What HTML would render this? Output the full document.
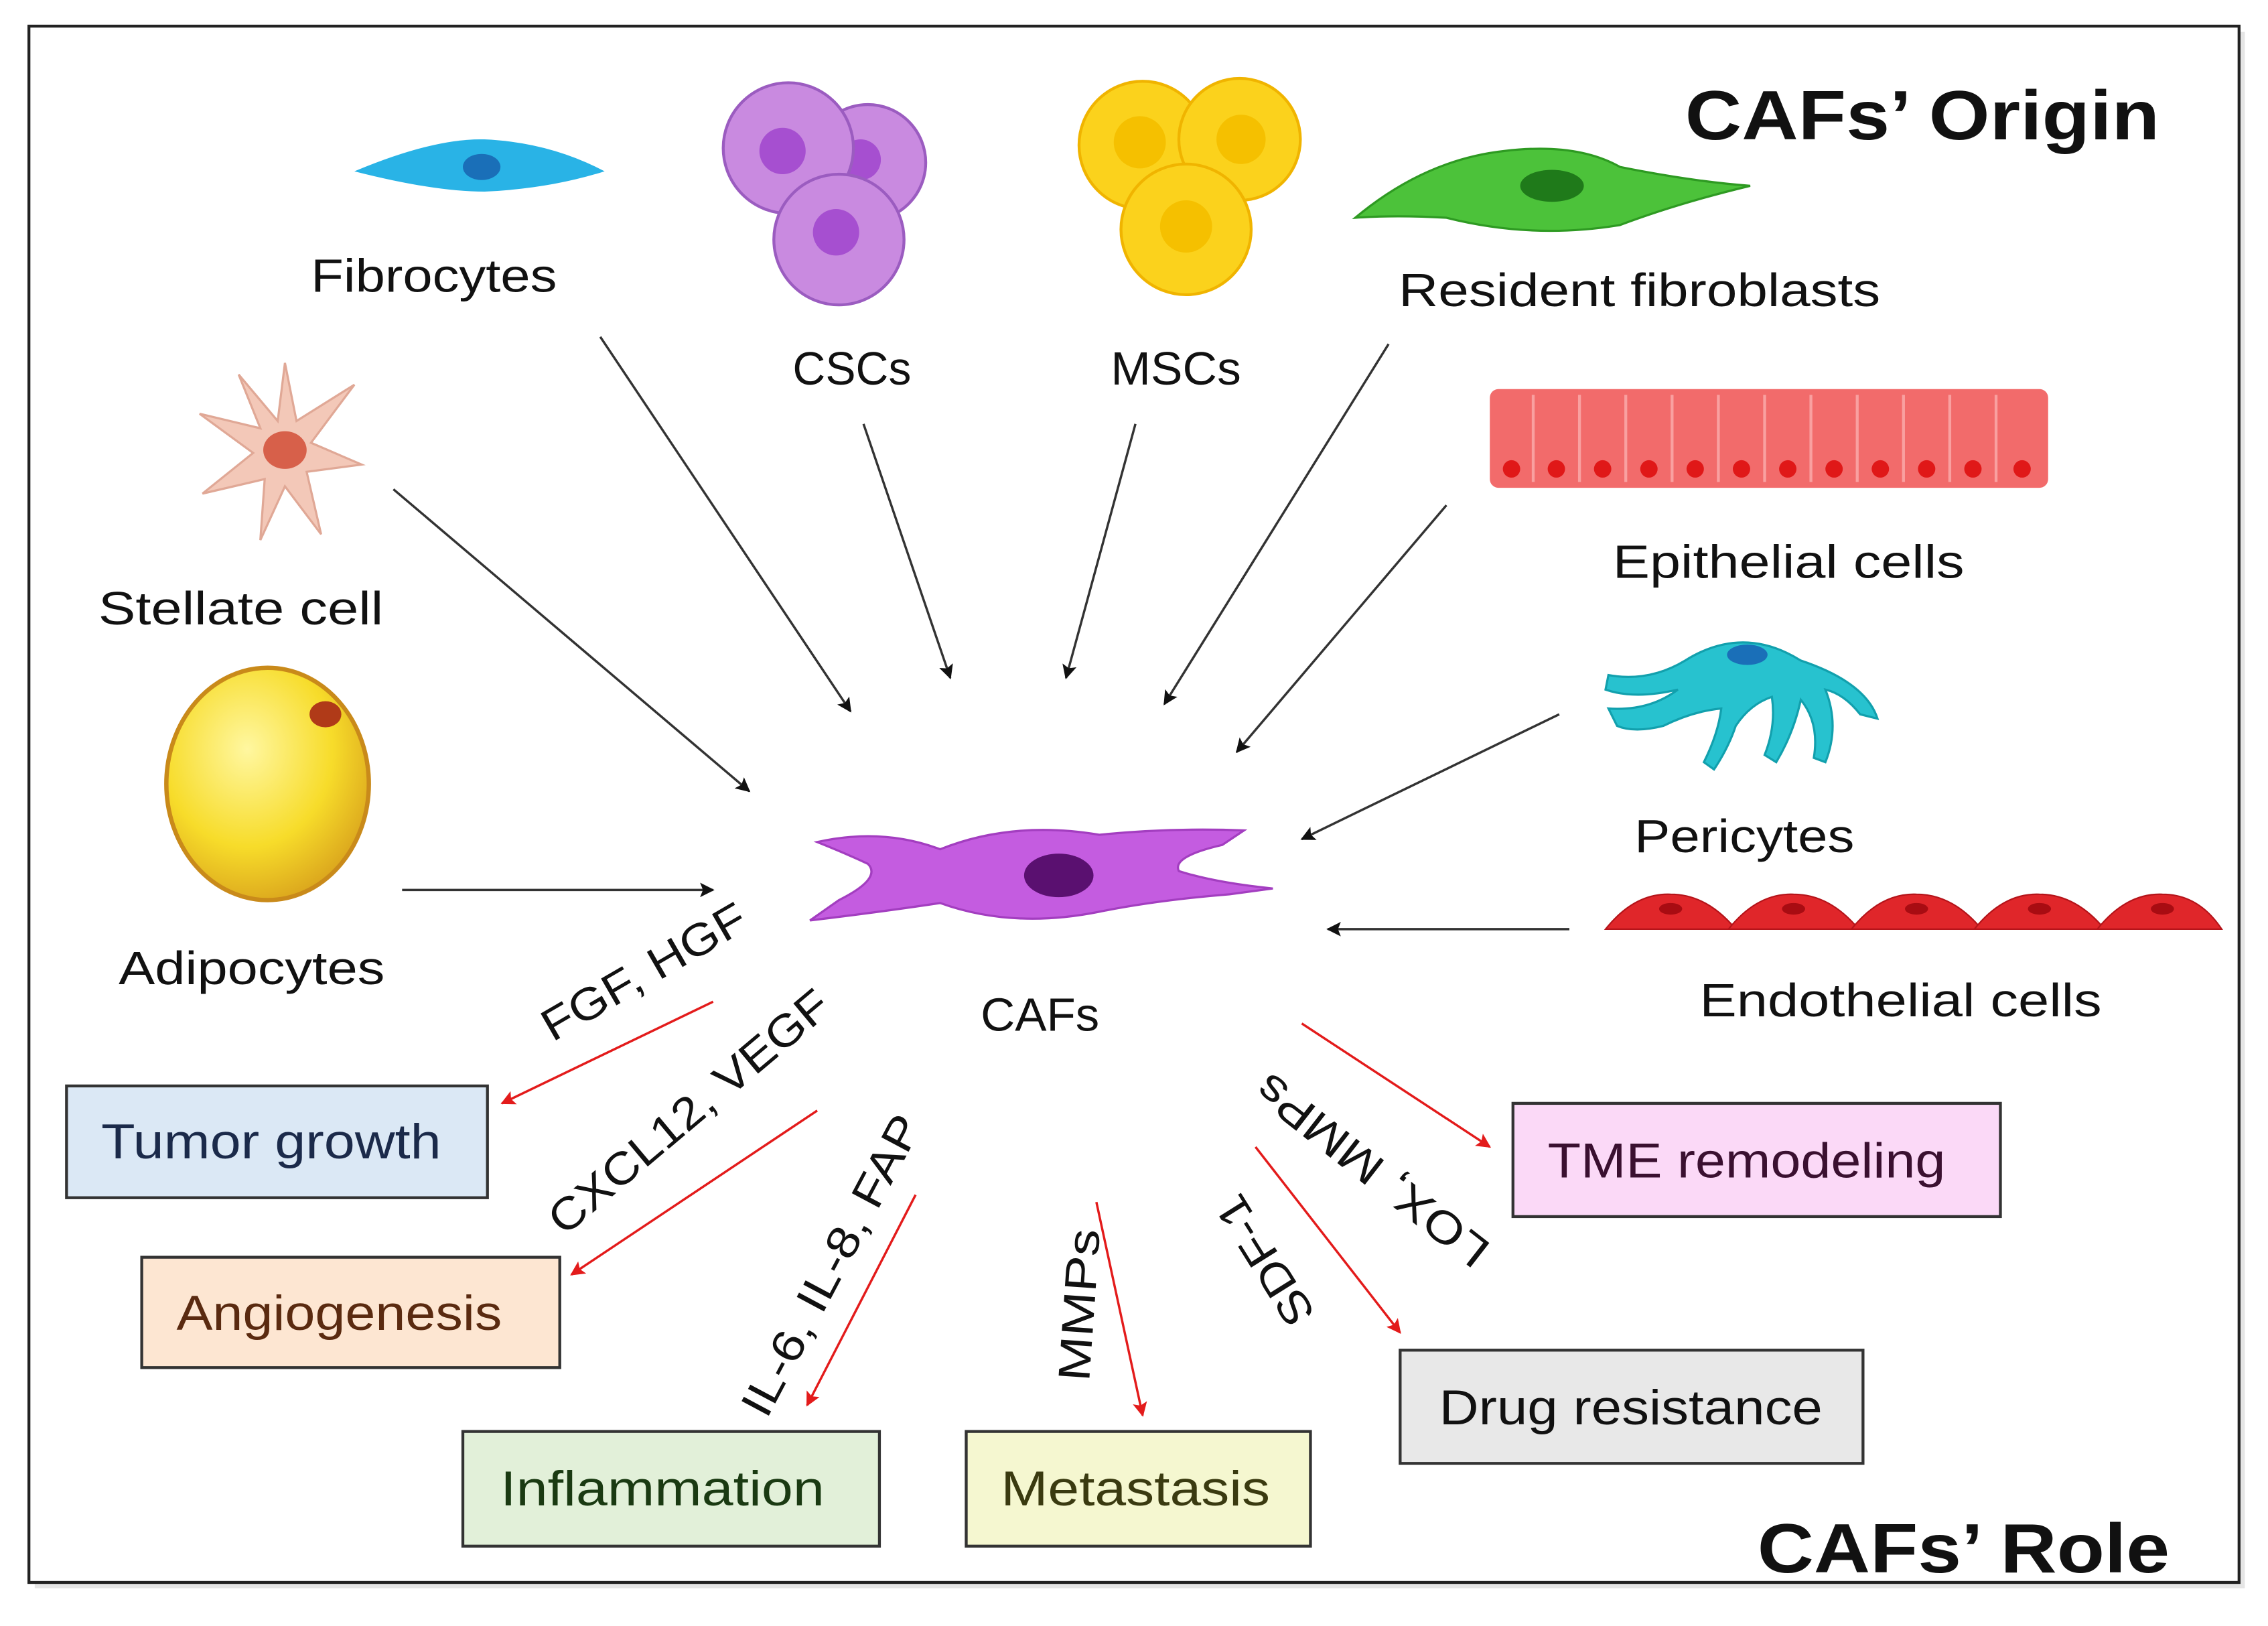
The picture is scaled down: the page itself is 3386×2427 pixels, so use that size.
<!DOCTYPE html>
<html><head><meta charset="utf-8"><style>
html,body{margin:0;padding:0;background:#fff;}
svg{display:block;}
text{font-family:"Liberation Sans","DejaVu Sans",sans-serif;fill:#111;}
</style></head><body>
<svg width="3386" height="2427" viewBox="0 0 1568 1120" preserveAspectRatio="none" xmlns="http://www.w3.org/2000/svg">
<defs>
<marker id="ak" markerWidth="10" markerHeight="10" refX="9" refY="5" orient="auto" markerUnits="userSpaceOnUse"><path d="M0,0 L10,5 L0,10 L2,5 z" fill="#111"/></marker>
<marker id="ar" markerWidth="10" markerHeight="10" refX="9" refY="5" orient="auto" markerUnits="userSpaceOnUse"><path d="M0,0 L10,5 L0,10 L2,5 z" fill="#e31b1b"/></marker>
<radialGradient id="adi" cx="0.4" cy="0.35" r="0.7"><stop offset="0" stop-color="#fff7a0"/><stop offset="0.6" stop-color="#f7dc2a"/><stop offset="1" stop-color="#d9a21c"/></radialGradient>
</defs>
<rect x="24" y="22" width="1528" height="1072" fill="#ccc" opacity="0.5"/>
<rect x="20" y="18" width="1528" height="1072" fill="#fff" stroke="#222" stroke-width="2"/>

<text x="1165" y="96" font-size="48" font-weight="bold" textLength="328" lengthAdjust="spacingAndGlyphs">CAFs’ Origin</text>
<text x="1215" y="1083" font-size="48" font-weight="bold" textLength="285" lengthAdjust="spacingAndGlyphs">CAFs’ Role</text>

<path d="M245,118 Q300,95 335,96 Q380,98 418,118 Q380,130 335,132 Q300,132 245,118z" fill="#29b3e6"/>
<ellipse cx="333" cy="115" rx="13" ry="9" fill="#1a6fb8"/>
<text x="215" y="201" font-size="32" textLength="170" lengthAdjust="spacingAndGlyphs">Fibrocytes</text>

<circle cx="600" cy="112" r="40" fill="#c98ae0" stroke="#9b5cc0" stroke-width="2"/><circle cx="595" cy="110" r="14" fill="#a64fd0"/>
<circle cx="545" cy="102" r="45" fill="#c98ae0" stroke="#9b5cc0" stroke-width="2"/><circle cx="541" cy="104" r="16" fill="#a64fd0"/>
<circle cx="580" cy="165" r="45" fill="#c98ae0" stroke="#9b5cc0" stroke-width="2"/><circle cx="578" cy="160" r="16" fill="#a64fd0"/>
<text x="548" y="265" font-size="32" textLength="82" lengthAdjust="spacingAndGlyphs">CSCs</text>

<circle cx="790" cy="100" r="44" fill="#fbd21c" stroke="#f0b400" stroke-width="2"/><circle cx="788" cy="98" r="18" fill="#f5c000"/>
<circle cx="857" cy="96" r="42" fill="#fbd21c" stroke="#f0b400" stroke-width="2"/><circle cx="858" cy="96" r="17" fill="#f5c000"/>
<circle cx="820" cy="158" r="45" fill="#fbd21c" stroke="#f0b400" stroke-width="2"/><circle cx="820" cy="156" r="18" fill="#f5c000"/>
<text x="768" y="265" font-size="32" textLength="90" lengthAdjust="spacingAndGlyphs">MSCs</text>

<path d="M937,150 Q985,110 1040,104 Q1090,98 1120,115 Q1170,125 1210,128 Q1160,140 1120,155 Q1060,165 1000,150 Q965,148 937,150z" fill="#4cc23a" stroke="#2e9a22" stroke-width="1.5"/>
<ellipse cx="1073" cy="128" rx="22" ry="11" fill="#1f7a1a"/>
<text x="967" y="211" font-size="32" textLength="333" lengthAdjust="spacingAndGlyphs">Resident fibroblasts</text>

<rect x="1030" y="268" width="386" height="68" rx="6" fill="#f26b6b"/>
<g stroke="#f9a0a0" stroke-width="2">
<line x1="1060" y1="272" x2="1060" y2="332"/><line x1="1092" y1="272" x2="1092" y2="332"/><line x1="1124" y1="272" x2="1124" y2="332"/><line x1="1156" y1="272" x2="1156" y2="332"/><line x1="1188" y1="272" x2="1188" y2="332"/><line x1="1220" y1="272" x2="1220" y2="332"/><line x1="1252" y1="272" x2="1252" y2="332"/><line x1="1284" y1="272" x2="1284" y2="332"/><line x1="1316" y1="272" x2="1316" y2="332"/><line x1="1348" y1="272" x2="1348" y2="332"/><line x1="1380" y1="272" x2="1380" y2="332"/>
</g>
<g fill="#e01818">
<circle cx="1045" cy="323" r="6"/><circle cx="1076" cy="323" r="6"/><circle cx="1108" cy="323" r="6"/><circle cx="1140" cy="323" r="6"/><circle cx="1172" cy="323" r="6"/><circle cx="1204" cy="323" r="6"/><circle cx="1236" cy="323" r="6"/><circle cx="1268" cy="323" r="6"/><circle cx="1300" cy="323" r="6"/><circle cx="1332" cy="323" r="6"/><circle cx="1364" cy="323" r="6"/><circle cx="1398" cy="323" r="6"/>
</g>
<text x="1115" y="398" font-size="32" textLength="243" lengthAdjust="spacingAndGlyphs">Epithelial cells</text>

<path d="M1165,455 Q1205,430 1245,455 Q1290,470 1298,495 L1286,492 Q1275,478 1262,475 Q1272,500 1262,525 L1254,522 Q1258,498 1245,482 Q1240,505 1228,525 L1220,520 Q1228,500 1225,480 Q1210,485 1200,500 Q1195,515 1185,530 L1178,525 Q1188,505 1190,488 Q1170,490 1150,500 Q1130,505 1118,500 L1112,488 Q1140,490 1160,475 Q1130,482 1110,475 L1112,465 Q1140,470 1165,455z" fill="#27c2cf" stroke="#12a0ad" stroke-width="1.5"/>
<ellipse cx="1208" cy="451" rx="14" ry="7" fill="#1a6fb8"/>
<text x="1130" y="587" font-size="32" textLength="152" lengthAdjust="spacingAndGlyphs">Pericytes</text>

<g fill="#e0262a" stroke="#b5141a" stroke-width="1">
<path d="M1110,640 Q1130,615 1155,616 Q1180,616 1200,640z"/>
<path d="M1195,640 Q1215,615 1240,616 Q1265,616 1285,640z"/>
<path d="M1280,640 Q1300,615 1325,616 Q1350,616 1370,640z"/>
<path d="M1365,640 Q1385,615 1410,616 Q1435,616 1455,640z"/>
<path d="M1450,640 Q1470,615 1495,616 Q1520,616 1536,640z"/>
</g>
<g fill="#a80c12"><ellipse cx="1155" cy="626" rx="8" ry="4"/><ellipse cx="1240" cy="626" rx="8" ry="4"/><ellipse cx="1325" cy="626" rx="8" ry="4"/><ellipse cx="1410" cy="626" rx="8" ry="4"/><ellipse cx="1495" cy="626" rx="8" ry="4"/></g>
<text x="1175" y="700" font-size="32" textLength="278" lengthAdjust="spacingAndGlyphs">Endothelial cells</text>

<path d="M197,250 L205,290 L245,265 L215,305 L250,320 L212,325 L222,368 L197,335 L180,372 L183,330 L140,340 L175,312 L138,285 L180,295 L165,258 L192,290 z" fill="#f3c8b8" stroke="#e0a896" stroke-width="1.5"/>
<ellipse cx="197" cy="310" rx="15" ry="13" fill="#d7604a"/>
<text x="68" y="430" font-size="32" textLength="197" lengthAdjust="spacingAndGlyphs">Stellate cell</text>

<ellipse cx="185" cy="540" rx="70" ry="80" fill="url(#adi)" stroke="#c98a1a" stroke-width="3"/>
<ellipse cx="225" cy="492" rx="11" ry="9" fill="#b03a18"/>
<text x="82" y="678" font-size="32" textLength="184" lengthAdjust="spacingAndGlyphs">Adipocytes</text>

<path d="M565,580 Q610,570 650,585 Q700,565 760,575 Q810,570 860,572 L845,582 Q810,590 815,600 Q840,608 880,612 L850,616 Q800,620 760,628 Q700,640 650,622 Q610,628 560,634 L580,620 Q610,605 600,595 Q585,588 565,580z" fill="#c45ce0" stroke="#a33ec0" stroke-width="1.5"/>
<ellipse cx="732" cy="603" rx="24" ry="15" fill="#5a1070"/>
<text x="678" y="710" font-size="32" textLength="82" lengthAdjust="spacingAndGlyphs">CAFs</text>

<g stroke="#333" stroke-width="1.6" marker-end="url(#ak)">
<line x1="415" y1="232" x2="588" y2="490"/>
<line x1="597" y1="292" x2="657" y2="467"/>
<line x1="785" y1="292" x2="737" y2="467"/>
<line x1="960" y1="237" x2="805" y2="485"/>
<line x1="1000" y1="348" x2="855" y2="518"/>
<line x1="272" y1="337" x2="518" y2="545"/>
<line x1="278" y1="613" x2="493" y2="613"/>
<line x1="1078" y1="492" x2="900" y2="578"/>
<line x1="1085" y1="640" x2="918" y2="640"/>
</g>

<g stroke="#e31b1b" stroke-width="1.6" marker-end="url(#ar)">
<line x1="493" y1="690" x2="347" y2="760"/>
<line x1="565" y1="765" x2="395" y2="878"/>
<line x1="633" y1="823" x2="558" y2="968"/>
<line x1="758" y1="828" x2="790" y2="975"/>
<line x1="868" y1="790" x2="968" y2="918"/>
<line x1="900" y1="705" x2="1030" y2="790"/>
</g>

<text font-size="31" textLength="158" lengthAdjust="spacingAndGlyphs" transform="translate(382,718) rotate(-30)">FGF, HGF</text>
<text font-size="31" textLength="243" lengthAdjust="spacingAndGlyphs" transform="translate(390,852) rotate(-40)">CXCL12, VEGF</text>
<text font-size="31" textLength="230" lengthAdjust="spacingAndGlyphs" transform="translate(530,978) rotate(-62)">IL-6, IL-8, FAP</text>
<text font-size="31" textLength="105" lengthAdjust="spacingAndGlyphs" transform="translate(753,952) rotate(-86)">MMPs</text>
<text font-size="31" textLength="195" lengthAdjust="spacingAndGlyphs" transform="translate(1032,858) rotate(218)">LOX, MMPs</text>
<text font-size="31" textLength="100" lengthAdjust="spacingAndGlyphs" transform="translate(910,905) rotate(238)">SDF-1</text>

<rect x="46" y="748" width="291" height="77" fill="#dbe8f5" stroke="#333" stroke-width="2"/>
<text x="70" y="798" font-size="34" textLength="235" lengthAdjust="spacingAndGlyphs" style="fill:#1b2a4a">Tumor growth</text>
<rect x="98" y="866" width="289" height="76" fill="#fde6d2" stroke="#333" stroke-width="2"/>
<text x="122" y="916" font-size="34" textLength="225" lengthAdjust="spacingAndGlyphs" style="fill:#5a2a10">Angiogenesis</text>
<rect x="320" y="986" width="288" height="79" fill="#e2f0d9" stroke="#333" stroke-width="2"/>
<text x="346" y="1037" font-size="34" textLength="224" lengthAdjust="spacingAndGlyphs" style="fill:#1a3a12">Inflammation</text>
<rect x="668" y="986" width="238" height="79" fill="#f5f7d0" stroke="#333" stroke-width="2"/>
<text x="692" y="1037" font-size="34" textLength="186" lengthAdjust="spacingAndGlyphs" style="fill:#3a3a10">Metastasis</text>
<rect x="1046" y="760" width="337" height="78" fill="#fbd9f7" stroke="#333" stroke-width="2"/>
<text x="1070" y="811" font-size="34" textLength="275" lengthAdjust="spacingAndGlyphs" style="fill:#3a1030">TME remodeling</text>
<rect x="968" y="930" width="320" height="78" fill="#e8e8e8" stroke="#333" stroke-width="2"/>
<text x="995" y="981" font-size="34" textLength="265" lengthAdjust="spacingAndGlyphs">Drug resistance</text>
</svg>
</body></html>
